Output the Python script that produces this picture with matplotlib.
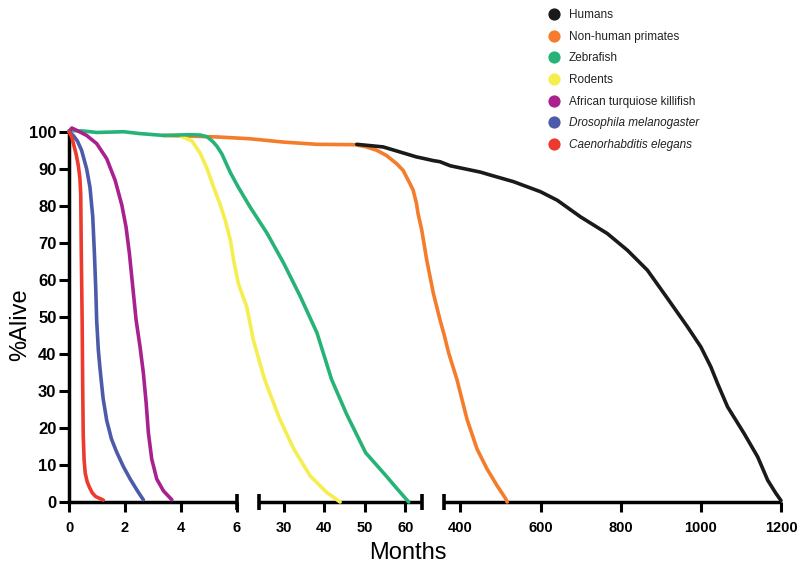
import numpy as np
import matplotlib
matplotlib.use('Agg')
import matplotlib.pyplot as plt
from matplotlib.lines import Line2D

plt.rcParams['font.family'] = ['Liberation Sans', 'DejaVu Sans']

# --- data (months, % alive) ---
celegans_m = [0, 0.1, 0.25, 0.33, 0.39, 0.42, 0.44, 0.47, 0.49, 0.51, 0.54, 0.58, 0.65,
              0.73, 0.83, 0.95, 1.23]
celegans_p = [100, 98.5, 94.1, 91, 87.5, 83, 67.2, 49.2, 31.3, 17.8, 11.5, 7.8, 5.5,
              4.0, 2.5, 1.5, 0.5]

dros_m = [0, 0.15, 0.3, 0.45, 0.63, 0.75, 0.85, 0.91, 0.96, 0.99, 1.05, 1.11, 1.22, 1.35,
          1.52, 1.71, 1.95, 2.19, 2.45, 2.66]
dros_p = [100, 99, 97.5, 95, 90, 85, 77, 67, 57, 49, 41, 36, 28, 22,
          17, 13.4, 9.5, 6.2, 3, 0.6]

killi_m = [0, 0.1, 0.27, 0.63, 0.99, 1.35, 1.65, 1.89, 2.04, 2.16, 2.28, 2.4, 2.54,
           2.66, 2.76, 2.84, 2.96, 3.14, 3.38, 3.68]
killi_p = [100, 101, 100.4, 99, 96.8, 92.7, 86.9, 80.2, 74.3, 67.2, 58.2, 49.2, 42,
           34.9, 26.8, 18.7, 11.6, 6.2, 3.0, 0.6]

rodent_m = [4.0, 4.4, 4.7, 4.94, 5.17, 5.4, 5.59, 5.78, 5.89, 7.3, 11.0, 14.0, 19.3, 25.3,
            29.0, 32.5, 36.5, 40.6, 43.9]
rodent_p = [98.8, 97.5, 94.1, 90, 85.1, 80.5, 76.1, 70.5, 65.3, 59, 55.5, 52.7, 43.7, 33.1,
            22.5, 14.3, 7.1, 2.6, 0]

zebra_m = [0, 0.5, 1.0, 1.95, 2.54, 3.38, 4.3, 4.7, 4.95, 5.15, 5.3, 5.47, 5.77, 7.3, 16.6,
           25.9, 30, 34.1, 38.2, 41.8, 45.6, 50.2, 55.2, 58, 60.8]
zebra_p = [100.3, 100.2, 99.8, 100, 99.5, 99.0, 99.2, 99.1, 98.6, 97.3, 96, 94, 89, 85, 79.7,
           72.6, 64.5, 55.5, 45.7, 33.1, 23.5, 13.3, 7.1, 3.5, 0]

primate_m = [3.38, 5.29, 16.6, 30, 38.2, 47.6, 50.4, 52.9, 55.3, 57.8, 59.4, 61.1, 61.9, 62.7,
             63.1, 64, 129.5, 216, 303.7, 360, 370.75, 391.75, 416.75, 441.75, 466.75,
             491.75, 512.5, 517]
primate_p = [99.0, 98.6, 98.1, 97.2, 96.6, 96.5, 95.9, 95.0, 93.6, 91.4, 89.6, 86.0, 84.2, 80.7,
             77.9, 73.5, 65.4, 56.4, 49.2, 45, 40.3, 33, 22.3, 14.3, 8.9,
             4.4, 1.0, 0]

human_m = [48, 54.5, 62.7, 64, 216, 303.7, 375, 450, 475, 533, 600, 641.75, 700, 766.75,
           816.75, 866.75, 916.75, 966.75, 1000, 1025, 1041.75, 1066.75, 1108, 1141.75,
           1166.75, 1187.5, 1200]
human_p = [96.6, 95.9, 93.2, 92.9, 92.2, 91.9, 90.8, 89.1, 88.3, 86.5, 83.8, 81.5, 77.0, 72.5,
           68.0, 62.6, 55.0, 47.3, 41.9, 36.5, 32.0, 25.7, 18.5, 12.2,
           5.9, 2.3, 0.4]

LABELS = ['Humans', 'Non-human primates', 'Zebrafish', 'Rodents',
          'African turquiose killifish', 'Drosophila melanogaster', 'Caenorhabditis elegans']
COLORS = ['#1a1a1a', '#f47c2a', '#27b377', '#f6ee4f', '#a8218e', '#4b5aa9', '#ec3b2d']

XTICKS = [0, 2, 4, 6, 30, 40, 50, 60, 400, 600, 800, 1000, 1200]
YTICKS = list(range(0, 101, 10))

# broken x axis: month breakpoints and their position along the axis (pixels)
BREAK_MONTHS = [-100, 0, 6, 24, 64, 360, 1200, 2000]
BREAK_POS = [-2790, 0, 167.7, 190.3, 352.7, 375.3, 712, 1032]
SEGMENTS = [(0, 6), (24, 64), (360, 1200)]
BREAKS = [6, 24, 64, 360]


def fwd(x):
    return np.interp(x, BREAK_MONTHS, BREAK_POS)


def inv(p):
    return np.interp(p, BREAK_POS, BREAK_MONTHS)


fig = plt.figure(figsize=(8, 5.74), dpi=100)
ax = fig.add_axes([0.08625, 0.1254, 0.89, 0.6451])
ax.set_xscale('function', functions=(fwd, inv))
ax.set_xlim(0, 1200)
ax.set_ylim(0, 100)

series = [(human_m, human_p), (primate_m, primate_p), (zebra_m, zebra_p),
          (rodent_m, rodent_p), (killi_m, killi_p), (dros_m, dros_p),
          (celegans_m, celegans_p)]
zorders = [3.3, 3.0, 3.2, 3.1, 3.4, 3.5, 3.6]
for (m, p), c, z in zip(series, COLORS, zorders):
    ax.plot(m, p, color=c, lw=2.6, zorder=z, clip_on=False,
            solid_joinstyle='round', solid_capstyle='round')

# axes decoration
for s in ['top', 'right', 'bottom']:
    ax.spines[s].set_visible(False)
ax.spines['left'].set_linewidth(2.5)
ax.spines['left'].set_bounds(0, 100)
for lo, hi in SEGMENTS:
    ax.hlines(0, lo, hi, color='k', lw=2.5, clip_on=False, zorder=2)
ax.plot(BREAKS, [0] * len(BREAKS), ls='', marker='|', ms=11, mew=2.6,
        color='k', clip_on=False, zorder=2)

ax.set_xticks(XTICKS, labels=[str(t) for t in XTICKS], fontweight='bold')
ax.set_yticks(YTICKS, labels=[str(t) for t in YTICKS], fontweight='bold')
ax.xaxis.set_minor_locator(matplotlib.ticker.NullLocator())
ax.tick_params(axis='x', direction='out', length=7, width=2.2, pad=7, labelsize=10.5)
ax.tick_params(axis='y', direction='out', length=7, width=2.2, pad=2, labelsize=12)

ax.set_xlabel('Months', fontsize=17)
ax.xaxis.label.set_va('center')
ax.xaxis.set_label_coords(0.476, -0.138)
ax.set_ylabel('%Alive', fontsize=17)
ax.yaxis.label.set_va('center')
ax.yaxis.set_label_coords(-0.069, 0.478)

handles = [Line2D([], [], ls='', marker='o', ms=8.8, color=c, mec='none') for c in COLORS]
leg = fig.legend(handles, LABELS, loc='upper left', bbox_to_anchor=(548 / 800, 1 - 9 / 574),
                 frameon=False, fontsize=8.5, handlelength=1.0, handletextpad=0.75,
                 labelspacing=0.82, borderpad=0, borderaxespad=0)
for t in leg.get_texts():
    t.set_color('#222222')
for t in leg.get_texts()[5:]:
    t.set_fontstyle('italic')

fig.savefig('out.png', dpi=100)
